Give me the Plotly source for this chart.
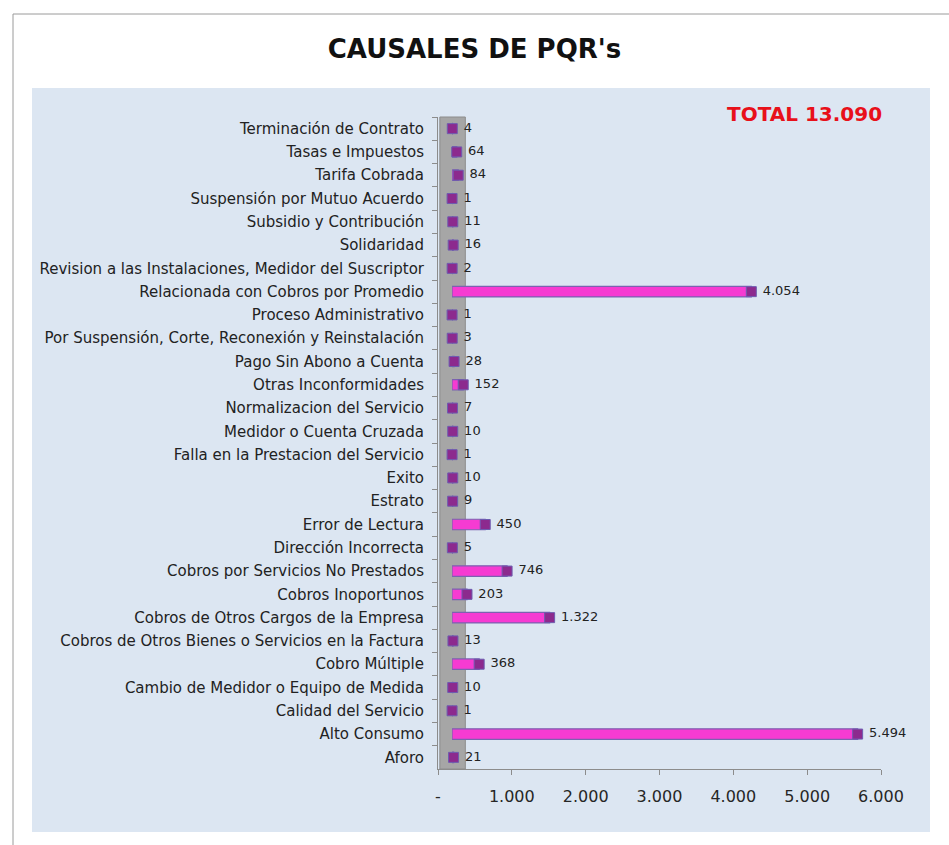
import plotly.graph_objects as go

# categories top to bottom, as they appear in the chart
causales = [
    "Terminación de Contrato",
    "Tasas e Impuestos",
    "Tarifa Cobrada",
    "Suspensión por Mutuo Acuerdo",
    "Subsidio y Contribución",
    "Solidaridad",
    "Revision a las Instalaciones, Medidor del Suscriptor",
    "Relacionada con Cobros por Promedio",
    "Proceso Administrativo",
    "Por Suspensión, Corte, Reconexión y Reinstalación",
    "Pago Sin Abono a Cuenta",
    "Otras Inconformidades",
    "Normalizacion del Servicio",
    "Medidor o Cuenta Cruzada",
    "Falla en la Prestacion del Servicio",
    "Exito",
    "Estrato",
    "Error de Lectura",
    "Dirección Incorrecta",
    "Cobros por Servicios No Prestados",
    "Cobros Inoportunos",
    "Cobros de Otros Cargos de la Empresa",
    "Cobros de Otros Bienes o Servicios en la Factura",
    "Cobro Múltiple",
    "Cambio de Medidor o Equipo de Medida",
    "Calidad del Servicio",
    "Alto Consumo",
    "Aforo",
]
cantidades = [4, 64, 84, 1, 11, 16, 2, 4054, 1, 3, 28, 152, 7, 10, 1, 10, 9,
              450, 5, 746, 203, 1322, 13, 368, 10, 1, 5494, 21]

x_ticks = [0, 1000, 2000, 3000, 4000, 5000, 6000]
x_ticktext = ["-", "1.000", "2.000", "3.000", "4.000", "5.000", "6.000"]


def fmt(n):
    return f"{n:,}".replace(",", ".")


total = sum(cantidades)
etiquetas = ["\u00a0" + fmt(v) for v in cantidades]

# plot area in pixels
W, H = 949, 845
L, R, T, B = 438, 900, 117, 769
pw, ph = R - L, B - T


def px(x):
    return (x - L) / pw


def py(y):
    return (B - y) / ph


fig = go.Figure()

fig.add_trace(go.Bar(
    x=cantidades, y=causales, orientation="h", xaxis="x2",
    marker=dict(color="#f63bd2", line=dict(color="#7b62b0", width=1.2)),
    width=0.45, hoverinfo="x+y", showlegend=False,
))

# dark end cap of the 3D bars + value labels
fig.add_trace(go.Scatter(
    x=cantidades, y=causales, xaxis="x2", mode="markers+text",
    marker=dict(symbol="square", size=10, color="#8c2a8e",
                line=dict(color="#6e5cb0", width=1)),
    text=etiquetas, textposition="middle right",
    textfont=dict(family="DejaVu Sans", size=13, color="#222222"),
    cliponaxis=False, showlegend=False, hoverinfo="skip",
))

fig.update_layout(
    width=W, height=H,
    margin=dict(l=L, r=W - R, t=T, b=H - B),
    paper_bgcolor="white",
    plot_bgcolor="rgba(0,0,0,0)",
    title=dict(text="<b>CAUSALES DE PQR's</b>", xref="container", yref="container",
               x=0.5, y=1 - 49 / H, xanchor="center", yanchor="middle",
               font=dict(family="DejaVu Sans", size=26, color="#111111")),
    xaxis=dict(domain=[0, 443 / pw], range=[0, 6000], tickvals=x_ticks, ticktext=x_ticktext,
               showgrid=False, zeroline=False, showline=True, linecolor="#8c8c8c",
               ticks="outside", ticklen=5, tickcolor="#8c8c8c", ticklabelstandoff=8,
               tickfont=dict(family="DejaVu Sans", size=16, color="#262626"),
               anchor="y", fixedrange=True),
    xaxis2=dict(domain=[14 / pw, 457 / pw], range=[0, 6000], visible=False,
                anchor="y", fixedrange=True),
    yaxis=dict(type="category", range=[len(causales) - 0.5, -0.5], showgrid=False,
               zeroline=False, showline=True, linecolor="#8c8c8c", ticks="outside",
               ticklen=5, tickcolor="#8c8c8c", tickson="boundaries", ticklabelstandoff=10,
               tickfont=dict(family="DejaVu Sans", size=15, color="#222222"),
               fixedrange=True),
    bargap=0.55,
    shapes=[
        # outer chart border
        dict(type="rect", xref="paper", yref="paper", layer="below",
             x0=px(13), x1=px(960), y0=py(870), y1=py(14),
             line=dict(color="#9a9a9a", width=1), fillcolor="white"),
        # light blue plot background
        dict(type="rect", xref="paper", yref="paper", layer="below",
             x0=px(32), x1=px(930), y0=py(832), y1=py(88),
             line=dict(width=0), fillcolor="#dce6f2"),
        # grey 3D side wall
        dict(type="rect", xref="x", yref="paper", layer="below",
             x0=25, x1=370, y0=0, y1=1,
             line=dict(color="#8c8c8c", width=1), fillcolor="#a6a6a6"),
    ],
    annotations=[
        dict(text=f"<b>TOTAL {fmt(total)}</b>", xref="paper", yref="paper",
             x=px(804), y=py(114), xanchor="center", yanchor="middle", showarrow=False,
             font=dict(family="DejaVu Sans", size=20, color="#e8101a")),
    ],
)

fig.write_html("out.html", config={"displayModeBar": False},
               post_script="document.body.style.margin='0';")
